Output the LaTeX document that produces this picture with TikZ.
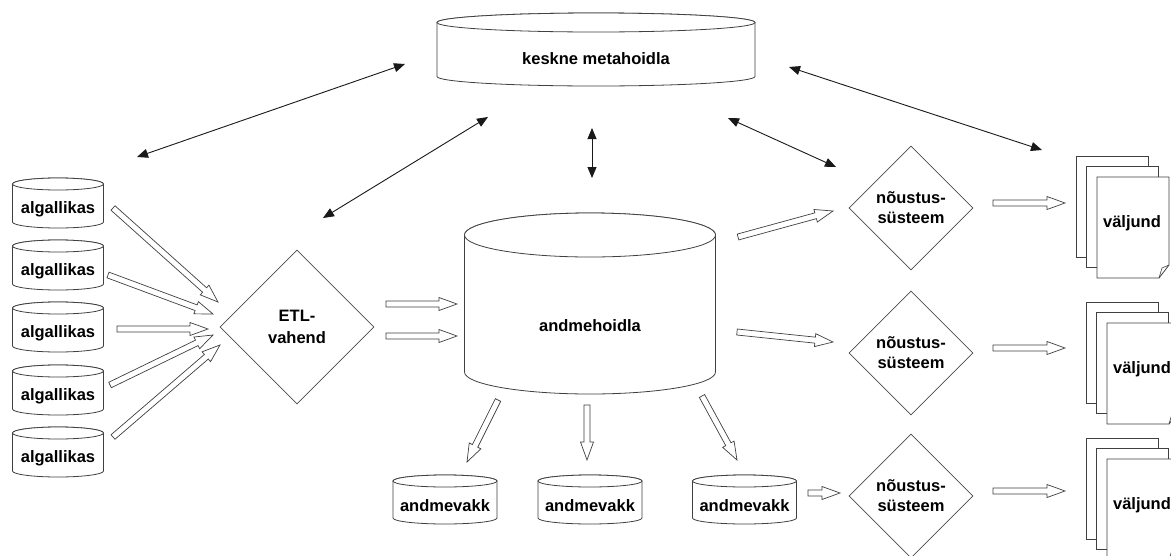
\documentclass[tikz,border=0pt]{standalone}
\usepackage{fontspec}
\setmainfont{Liberation Sans}
\usetikzlibrary{shapes.geometric,arrows.meta,calc}

\tikzset{
  lbl/.style={font=\fontsize{16.5}{20}\selectfont\bfseries, align=center, inner sep=0pt},
  outline/.style={draw=black!75, line width=0.8pt, fill=white},
  decision/.style={diamond, draw=black!70, line width=0.8pt, aspect=1, inner sep=0pt,
    font=\fontsize{16.5}{20}\selectfont\bfseries, align=center},
  thinarrow/.style={draw=black!90, line width=0.9pt,
    {Triangle[length=11pt,width=9pt]}-{Triangle[length=11pt,width=9pt]}},
  hollow/.style={draw=black!75, line width=0.7pt, fill=white, line join=miter},
  page/.style={draw=black!75, line width=0.8pt, fill=white},
}

% cylinder: name, cx, cy, rx, half height, ry, text
\newcommand{\cyl}[7]{%
  \draw[outline] (#2-#4, #3-#5+#6) -- (#2-#4, #3+#5-#6)
     arc[start angle=180, end angle=360, x radius=#4pt, y radius=#6pt]
     -- (#2+#4, #3-#5+#6)
     arc[start angle=0, end angle=180, x radius=#4pt, y radius=#6pt] -- cycle;
  \draw[outline] (#2, #3-#5+#6) ellipse[x radius=#4pt, y radius=#6pt];
  \node[lbl] (#1) at (#2, #3+#6) {#7};
}

% hollow (outlined) arrow from #1 to #2
\newcommand{\harrow}[2]{%
  \coordinate (hb) at ($(#2)!18pt!(#1)$);
  \draw[hollow] ($(#1)!3pt!90:(#2)$) -- ($(hb)!3pt!90:(#2)$) -- ($(hb)!6.5pt!90:(#2)$)
    -- (#2) -- ($(hb)!6.5pt!-90:(#2)$) -- ($(hb)!3pt!-90:(#2)$) -- ($(#1)!3pt!-90:(#2)$) -- cycle;
}

% stack of three pages: name, x of back page, y of back page, text
\newcommand{\docstack}[4]{%
  \draw[page] (#2, #3) rectangle ++(72, 101);
  \draw[page] (#2+10.5, #3+10.5) rectangle ++(72, 101);
  \draw[page] (#2+21, #3+21) -- (#2+93, #3+21) -- (#2+93, #3+109) -- (#2+83, #3+122)
     -- (#2+21, #3+122) -- cycle;
  \draw[draw=black!75, line width=0.6pt] (#2+93, #3+109) -- (#2+86, #3+112) -- (#2+83, #3+122);
  \node[lbl] (#1) at (#2+56, #3+67) {#4};
}

\begin{document}
\begin{tikzpicture}[x=1pt, y=-1pt]
\useasboundingbox (0,0) rectangle (1171,555);
\clip (0,0) rectangle (1171,555);
\fill[white] (0,0) rectangle (1171,555);

% central metadata store
\cyl{meta}{596}{49.5}{159}{36.5}{9.5}{keskne metahoidla}

% sources
\cyl{src1}{58}{203}{45.5}{25}{6}{algallikas}
\cyl{src2}{58}{265}{45.5}{25}{6}{algallikas}
\cyl{src3}{58}{327}{45.5}{25}{6}{algallikas}
\cyl{src4}{58}{390}{45.5}{25}{6}{algallikas}
\cyl{src5}{58}{452}{45.5}{25}{6}{algallikas}

% ETL
\node[decision, minimum width=154pt, minimum height=154pt] (etl) at (297,327) {ETL-\\[2pt]vahend};

% warehouse
\cyl{dw}{590}{303.5}{125.5}{90.5}{22}{andmehoidla}

% data marts
\cyl{dm1}{445}{499.5}{52}{24.5}{6}{andmevakk}
\cyl{dm2}{590}{499.5}{52}{24.5}{6}{andmevakk}
\cyl{dm3}{744.5}{499.5}{52}{24.5}{6}{andmevakk}

% decision support systems
\node[decision, minimum width=124pt, minimum height=124pt] (dss1) at (911,208) {nõustus-\\süsteem};
\node[decision, minimum width=124pt, minimum height=124pt] (dss2) at (911,353) {nõustus-\\süsteem};
\node[decision, minimum width=124pt, minimum height=124pt] (dss3) at (911,496) {nõustus-\\süsteem};

% outputs
\docstack{out1}{1076}{156}{väljund}
\docstack{out2}{1086}{302}{väljund}
\docstack{out3}{1086}{438}{väljund}

% connector end points
\coordinate (m1a) at (137,157); \coordinate (m1b) at (405,64);
\coordinate (m2a) at (323,218); \coordinate (m2b) at (488,117);
\coordinate (m3a) at (592,128); \coordinate (m3b) at (592,178);
\coordinate (m4a) at (728,118); \coordinate (m4b) at (836,167);
\coordinate (m5a) at (789,67);  \coordinate (m5b) at (1042,150);

\draw[thinarrow] (m1a) -- (m1b);
\draw[thinarrow] (m2a) -- (m2b);
\draw[thinarrow] (m3a) -- (m3b);
\draw[thinarrow] (m4a) -- (m4b);
\draw[thinarrow] (m5a) -- (m5b);

\coordinate (s1a) at (113,208); \coordinate (s1b) at (218,302);
\coordinate (s2a) at (108,275); \coordinate (s2b) at (213,314);
\coordinate (s3a) at (117,329); \coordinate (s3b) at (208,329);
\coordinate (s4a) at (110,385); \coordinate (s4b) at (213,335);
\coordinate (s5a) at (113,437); \coordinate (s5b) at (220,345);
\harrow{s1a}{s1b}
\harrow{s2a}{s2b}
\harrow{s3a}{s3b}
\harrow{s4a}{s4b}
\harrow{s5a}{s5b}

\coordinate (e1a) at (386,304); \coordinate (e1b) at (457,304);
\coordinate (e2a) at (386,336); \coordinate (e2b) at (457,336);
\harrow{e1a}{e1b}
\harrow{e2a}{e2b}

\coordinate (h1a) at (738,237); \coordinate (h1b) at (833,211);
\coordinate (h2a) at (737,332); \coordinate (h2b) at (833,342);
\harrow{h1a}{h1b}
\harrow{h2a}{h2b}

\coordinate (d1a) at (498,400); \coordinate (d1b) at (467,462);
\coordinate (d2a) at (587,405); \coordinate (d2b) at (587,460);
\coordinate (d3a) at (702,396); \coordinate (d3b) at (737,460);
\harrow{d1a}{d1b}
\harrow{d2a}{d2b}
\harrow{d3a}{d3b}

\coordinate (v3a) at (808,493); \coordinate (v3b) at (840,493);
\harrow{v3a}{v3b}

\coordinate (o1a) at (993,203); \coordinate (o1b) at (1065,203);
\coordinate (o2a) at (993,348); \coordinate (o2b) at (1065,348);
\coordinate (o3a) at (993,491); \coordinate (o3b) at (1065,491);
\harrow{o1a}{o1b}
\harrow{o2a}{o2b}
\harrow{o3a}{o3b}
\end{tikzpicture}
\end{document}
